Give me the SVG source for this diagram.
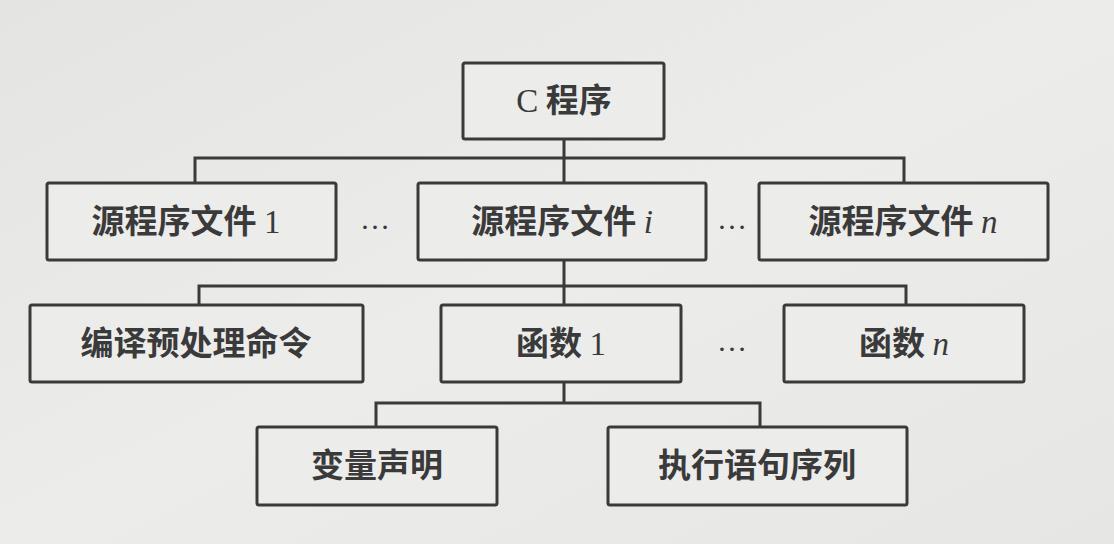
<svg xmlns="http://www.w3.org/2000/svg" width="1114" height="544" viewBox="0 0 1114 544">
<defs>
<linearGradient id="bg" x1="0" y1="0" x2="1" y2="1">
<stop offset="0" stop-color="#e4e4e2"/>
<stop offset="0.5" stop-color="#ececea"/>
<stop offset="1" stop-color="#e6e6e4"/>
</linearGradient>
<style>
.box{fill:#ececeb;stroke:#3a3a3a;stroke-width:3}
.cn{font-family:"Noto Sans CJK SC","Noto Sans",sans-serif;font-size:33px;font-weight:700;fill:#3a3a3a;text-anchor:middle}
.lat{font-family:"Liberation Serif",serif;font-weight:400}
.it{font-family:"Liberation Serif",serif;font-style:italic;font-weight:400}
.dots{font-family:"Liberation Serif",serif;font-size:30px;fill:#3a3a3a;text-anchor:middle}
.conn{fill:none;stroke:#3a3a3a;stroke-width:3}
</style>
</defs>
<rect width="1114" height="544" fill="url(#bg)"/>
<g id="connectors">
<path class="conn" d="M564 139V158M195 183V158H904V183M564 158V183"/>
<path class="conn" d="M564 260V286M199 305V286H906V305M564 286V305"/>
<path class="conn" d="M564 382V403M376 427V403H760V427"/>
</g>
<g id="n-c"><rect class="box" x="463" y="63" width="201" height="76" rx="2"/><text class="cn" x="564" y="112"><tspan class="lat">C</tspan> 程序</text></g>
<g id="n-src1"><rect class="box" x="47" y="183" width="289" height="77" rx="2"/><text class="cn" x="186" y="233">源程序文件 <tspan class="lat">1</tspan></text></g>
<g id="n-srci"><rect class="box" x="418" y="183" width="288" height="77" rx="2"/><text class="cn" x="562" y="233">源程序文件 <tspan class="it">i</tspan></text></g>
<g id="n-srcn"><rect class="box" x="759" y="183" width="289" height="77" rx="2"/><text class="cn" x="903" y="233">源程序文件 <tspan class="it">n</tspan></text></g>
<text class="dots" x="375" y="229">…</text>
<text class="dots" x="732" y="229">…</text>
<g id="n-pre"><rect class="box" x="30" y="305" width="333" height="77" rx="2"/><text class="cn" x="196" y="355">编译预处理命令</text></g>
<g id="n-f1"><rect class="box" x="441" y="305" width="240" height="77" rx="2"/><text class="cn" x="561" y="355">函数 <tspan class="lat">1</tspan></text></g>
<text class="dots" x="732" y="351">…</text>
<g id="n-fn"><rect class="box" x="784" y="305" width="240" height="77" rx="2"/><text class="cn" x="904" y="355">函数 <tspan class="it">n</tspan></text></g>
<g id="n-var"><rect class="box" x="257" y="427" width="240" height="78" rx="2"/><text class="cn" x="377" y="477">变量声明</text></g>
<g id="n-exec"><rect class="box" x="608" y="427" width="299" height="78" rx="2"/><text class="cn" x="757" y="477">执行语句序列</text></g>
</svg>
